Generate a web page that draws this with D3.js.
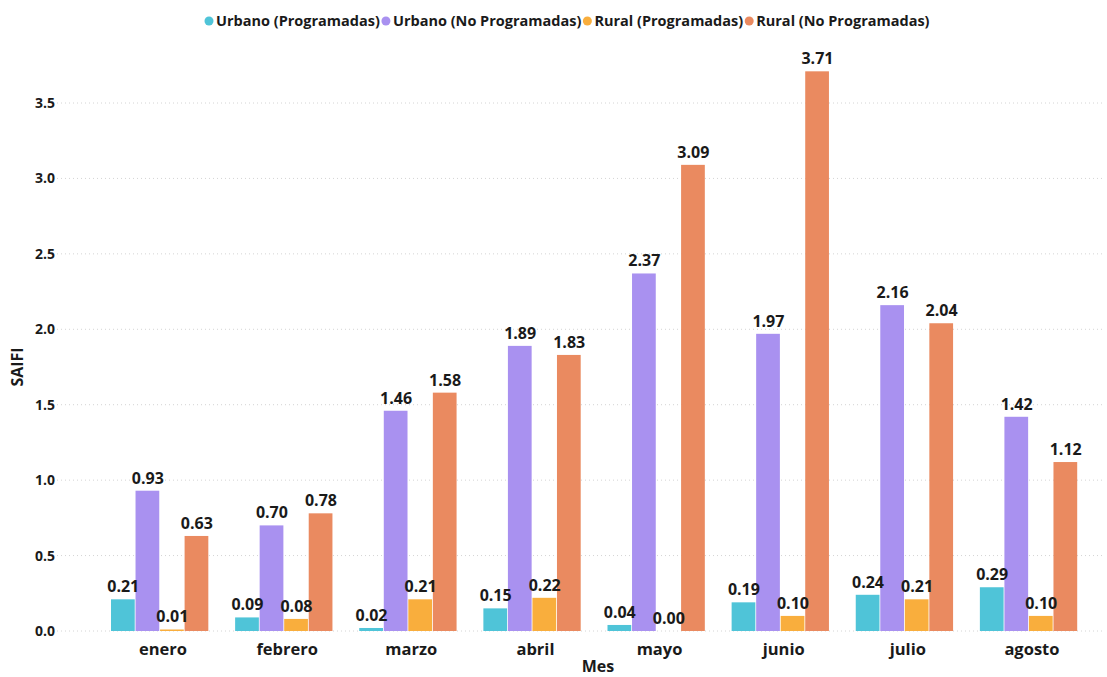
<!DOCTYPE html>
<html lang="es">
<head>
<meta charset="UTF-8">
<title>SAIFI por mes</title>
<script src="https://d3js.org/d3.v7.min.js"></script>
<style>
  body { margin: 0; background: #fff; }
  svg text { font-family: "Open Sans", "DejaVu Sans", sans-serif; font-weight: 700; fill: #1a1a1a; }
</style>
</head>
<body>
<div id="chart"></div>
<script>
// data
const meses = ["enero", "febrero", "marzo", "abril", "mayo", "junio", "julio", "agosto"];
const series = ["Urbano (Programadas)", "Urbano (No Programadas)", "Rural (Programadas)", "Rural (No Programadas)"];
const urbanoProg   = [0.21, 0.09, 0.02, 0.15, 0.04, 0.19, 0.24, 0.29];
const urbanoNoProg = [0.93, 0.70, 1.46, 1.89, 2.37, 1.97, 2.16, 1.42];
const ruralProg    = [0.01, 0.08, 0.21, 0.22, 0.00, 0.10, 0.21, 0.10];
const ruralNoProg  = [0.63, 0.78, 1.58, 1.83, 3.09, 3.71, 2.04, 1.12];
const yTicks = [0, 0.5, 1.0, 1.5, 2.0, 2.5, 3.0, 3.5];
const colors = ["#4fc4d8", "#a991f0", "#f9ae3d", "#ea8a60"];

const allValues = [urbanoProg, urbanoNoProg, ruralProg, ruralNoProg];
const rows = meses.map((m, i) => ({ mes: m, vals: allValues.map(s => s[i]) }));

const W = 1107, H = 677;
const svg = d3.select("#chart").append("svg")
    .attr("width", W).attr("height", H);

const x = d3.scaleBand().domain(meses).range([101, 1094]).paddingInner(0).paddingOuter(0);
const xs = d3.scaleBand().domain(d3.range(4)).range([10, x.bandwidth() - 16]);
const y = d3.scaleLinear().domain([0, 3.5]).range([631, 103]);

// gridlines
svg.append("g").selectAll("line")
    .data(yTicks)
    .join("line")
    .attr("x1", 57).attr("x2", 1105)
    .attr("y1", d => y(d)).attr("y2", d => y(d))
    .attr("stroke", "#d4d4d4")
    .attr("stroke-width", 1)
    .attr("stroke-dasharray", "1,3");

// y axis tick labels
const yAxis = svg.append("g")
    .attr("transform", "translate(55,0)")
    .call(d3.axisLeft(y).tickValues(yTicks).tickFormat(d3.format(".1f")).tickSize(0).tickPadding(0));
yAxis.select(".domain").remove();
yAxis.selectAll("text").style("font-size", "14px");

// bars
const groups = svg.append("g").selectAll("g")
    .data(rows)
    .join("g")
    .attr("transform", d => `translate(${x(d.mes)},0)`);

groups.selectAll("rect")
    .data(d => d.vals)
    .join("rect")
    .attr("x", (d, i) => xs(i))
    .attr("width", xs.bandwidth() - 0.8)
    .attr("y", d => y(d))
    .attr("height", d => y(0) - y(d))
    .attr("fill", (d, i) => colors[i]);

groups.selectAll("text.lbl")
    .data(d => d.vals)
    .join("text")
    .attr("class", "lbl")
    .attr("x", (d, i) => xs(i) + xs.bandwidth() / 2)
    .attr("y", d => y(d) - 7)
    .attr("text-anchor", "middle")
    .style("font-size", "16px")
    .text(d => d3.format(".2f")(d));

// x axis labels
const xAxis = svg.append("g")
    .attr("transform", "translate(0,640)")
    .call(d3.axisBottom(x).tickSize(0).tickPadding(0));
xAxis.select(".domain").remove();
xAxis.selectAll("text").style("font-size", "16.5px").attr("dy", "0.9em");

// axis titles
svg.append("text")
    .attr("x", 598).attr("y", 672)
    .attr("text-anchor", "middle")
    .style("font-size", "16px")
    .text("Mes");

svg.append("text")
    .attr("transform", "translate(23,367) rotate(-90)")
    .attr("text-anchor", "middle")
    .style("font-size", "16px")
    .text("SAIFI");

// legend
const legend = svg.append("g").attr("transform", "translate(209,21)");
let lx = 0;
series.forEach((s, i) => {
    const g = legend.append("g").attr("transform", `translate(${lx},0)`);
    g.append("circle").attr("cx", 0).attr("cy", 0).attr("r", 4.5).attr("fill", colors[i]);
    const t = g.append("text").attr("x", 7).attr("y", 0).attr("dy", "0.35em")
        .style("font-size", "14.5px").text(s);
    lx += 7 + t.node().getComputedTextLength() + 6;
});
</script>
</body>
</html>
